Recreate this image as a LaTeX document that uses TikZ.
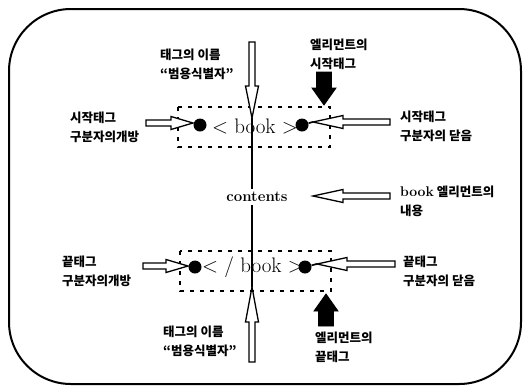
\documentclass[tikz,border=0pt]{standalone}
\usepackage{fontspec}
\newfontfamily\kr{Noto Sans CJK KR}
\usetikzlibrary{calc}

\tikzset{
  % outline arrow drawn as a closed polygon from start to tip
  arr shaft/.store in=\arrShaft,
  arr head/.store in=\arrHead,
  arr len/.store in=\arrLen,
  arr shaft=3pt, arr head=6.5pt, arr len=28pt,
  blockarrow/.style={to path={
    ($(\tikztostart)!\arrShaft!90:(\tikztotarget)$)
    -- ($(\tikztotarget)!\arrLen!(\tikztostart)!\arrShaft!90:(\tikztotarget)$)
    -- ($(\tikztotarget)!\arrLen!(\tikztostart)!\arrHead!90:(\tikztotarget)$)
    -- (\tikztotarget)
    -- ($(\tikztotarget)!\arrLen!(\tikztostart)!\arrHead!-90:(\tikztotarget)$)
    -- ($(\tikztotarget)!\arrLen!(\tikztostart)!\arrShaft!-90:(\tikztotarget)$)
    -- ($(\tikztostart)!\arrShaft!-90:(\tikztotarget)$)
    -- cycle}},
  hollow/.style={blockarrow, draw=black, fill=white, line width=1.3pt, line join=miter},
  blackarrow/.style={blockarrow, draw=black, fill=black, line width=0.8pt,
    arr shaft=7.5pt, arr head=12pt, arr len=17pt},
  lbl/.style={font=\kr\bfseries\fontsize{12.5}{19}\selectfont, align=left,
    anchor=north west, inner sep=0pt},
  tagtext/.style={font=\fontsize{21}{21}\selectfont, inner sep=0pt},
  dot/.style={circle, fill=black, inner sep=0pt, minimum size=13pt},
  tagbox/.style={draw, line width=1.4pt, dash pattern=on 4pt off 6pt}
}

\begin{document}
\begin{tikzpicture}[x=1pt,y=-1pt]
\useasboundingbox (0,0) rectangle (525,389);

% outer frame
\draw[line width=2pt, rounded corners=62pt] (9,9) rectangle (521,384);

% dashed boxes around the two tags
\draw[tagbox] (178,107) rectangle (330,147);
\draw[tagbox] (180,251) rectangle (331,291);

% arrow end points
\coordinate (vtS) at (252,42);   \coordinate (vtT) at (252,118);
\coordinate (vbS) at (252,362);  \coordinate (vbT) at (252,287);
\coordinate (ltS) at (146,123);  \coordinate (ltT) at (193,123);
\coordinate (rtS) at (390,122);  \coordinate (rtT) at (313,122);
\coordinate (rcS) at (390,196);  \coordinate (rcT) at (313,196);
\coordinate (lbS) at (143,266);  \coordinate (lbT) at (188,266);
\coordinate (rbS) at (395,264);  \coordinate (rbT) at (317,264);
\coordinate (btS) at (324,72);   \coordinate (btT) at (324,105);
\coordinate (bbS) at (326,326);  \coordinate (bbT) at (326,294);

% content in the middle
\node[font=\bfseries\fontsize{15}{15}\selectfont, inner sep=3pt] (cont) at (257,197) {contents};

% vertical axis through both tags
\draw[line width=1.6pt] (vtT) -- (vtT |- cont.north);
\draw[line width=1.6pt] (vbT |- cont.south) -- (vbT);

% tag circles
\node[dot] (c1) at (200,125) {};
\node[dot] (c2) at (302,125) {};
\node[dot] (c3) at (195,267) {};
\node[dot] (c4) at (305,267) {};
\draw[line width=1.6pt] (c2) -- (rtT);
\draw[line width=1.6pt] (c4) -- (rbT);

% arrows
\draw[hollow, arr len=32pt] (vtS) to (vtT);
\draw[hollow, arr len=35pt] (vbS) to (vbT);
\draw[hollow, arr len=22pt] (ltS) to (ltT);
\draw[hollow, arr len=30pt] (rtS) to (rtT);
\draw[hollow, arr len=30pt] (rcS) to (rcT);
\draw[hollow, arr len=22pt] (lbS) to (lbT);
\draw[hollow, arr len=30pt] (rbS) to (rbT);
\draw[blackarrow] (btS) to (btT);
\draw[blackarrow] (bbS) to (bbT);

% tags
\node[tagtext] (stag) at (255,127) {< book >};
\node[tagtext] (etag) at (253,267) {< / book >};

% labels
\node[lbl] (tn1) at (160,49)  {태그의 이름\\“범용식별자”};
\node[lbl] (em1) at (310,39)  {엘리먼트의\\시작태그};
\node[lbl] (ls1) at (70,112)  {시작태그\\구분자의개방};
\node[lbl] (rs1) at (400,111) {시작태그\\구분자의 닫음};
\node[lbl] (rc)  at (400,186) {{\rmfamily\bfseries\fontsize{14}{19}\selectfont book} 엘리먼트의\\내용};
\node[lbl] (ls2) at (62,256)  {끝태그\\구분자의개방};
\node[lbl] (rs2) at (403,256) {끝태그\\구분자의 닫음};
\node[lbl] (tn2) at (163,326) {태그의 이름\\“범용식별자”};
\node[lbl] (em2) at (315,332) {엘리먼트의\\끝태그};
\end{tikzpicture}
\end{document}
